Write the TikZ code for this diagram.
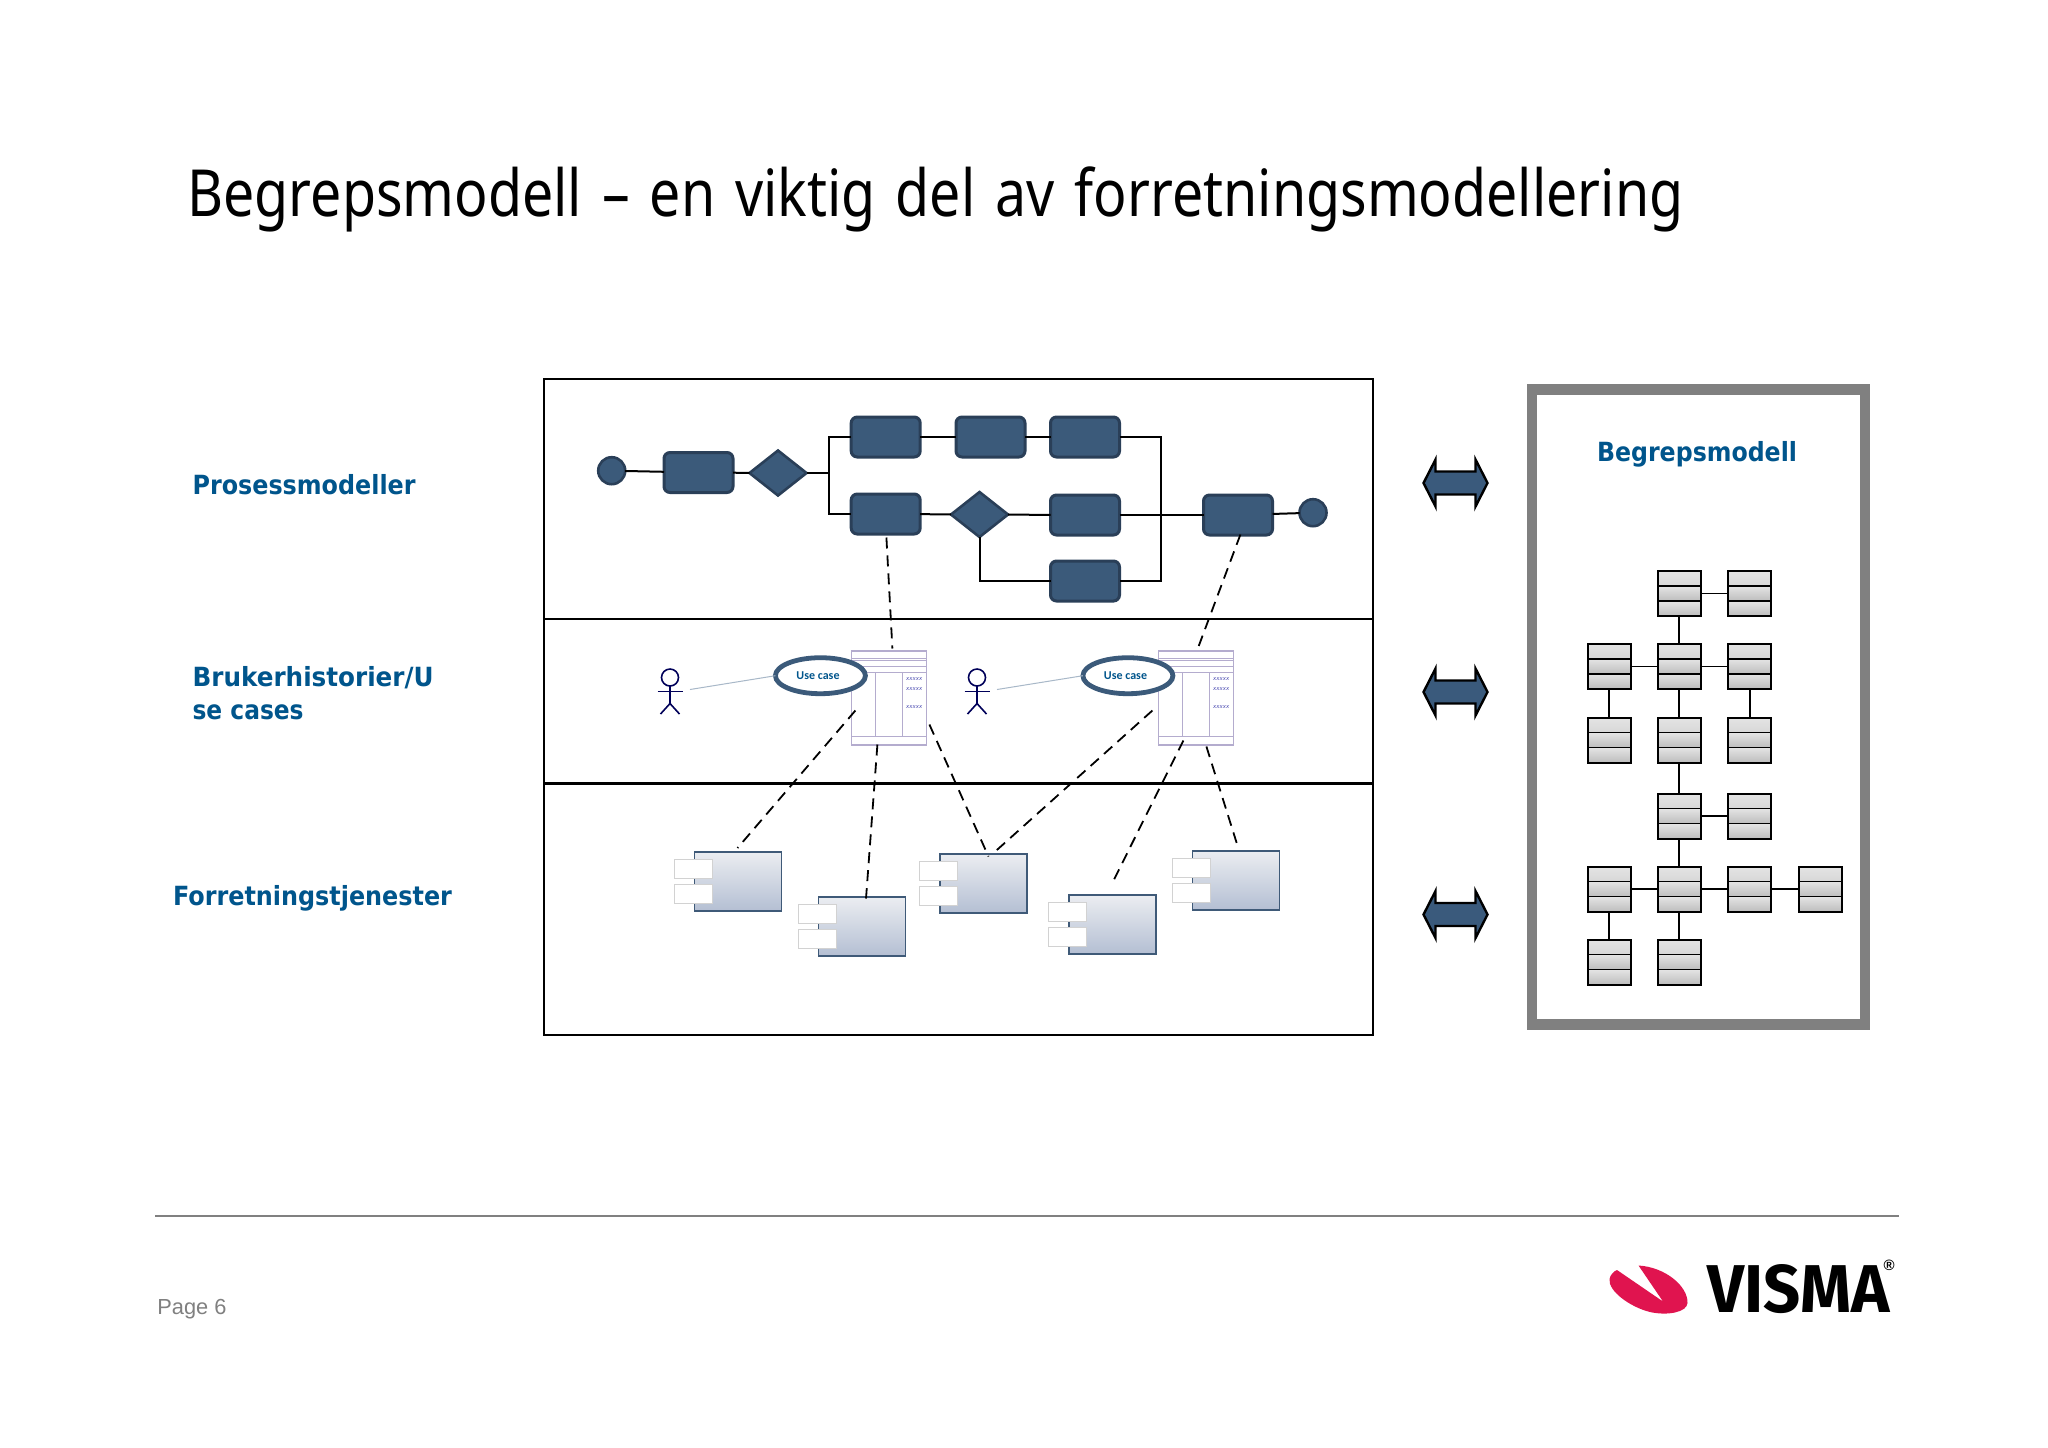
\documentclass[tikz,border=0pt]{standalone}
\usepackage{fontspec}
\usepackage{graphicx}
\setmainfont{DejaVu Sans}
\newfontfamily\titlefont{Noto Sans}
\newfontfamily\arialfont{Liberation Sans}
\newfontfamily\calfont{Carlito}
\newfontfamily\fira{Fira Sans}
\usetikzlibrary{shapes.geometric,calc}
\definecolor{taskfill}{HTML}{3B5A7A}
\definecolor{taskedge}{HTML}{2A3F58}
\definecolor{labelblue}{HTML}{00558C}
\definecolor{framegray}{HTML}{808080}
\definecolor{arrowfill}{HTML}{3A5A7C}
\definecolor{classline}{HTML}{B4ACCE}
\definecolor{compedge}{HTML}{3F5A78}
\definecolor{comptop}{HTML}{EBEDF1}
\definecolor{compbot}{HTML}{B4BFD3}
\definecolor{assocgray}{HTML}{A8B8C8}
\definecolor{entop}{HTML}{E4E4E4}
\definecolor{enbot}{HTML}{BDBDBD}
\definecolor{vismared}{HTML}{E0144F}
\newcommand{\fitw}[2]{\resizebox{#1}{\height}{#2}}
\tikzset{
  x=0.5pt,y=-0.5pt,
  lane/.style={draw=black,line width=1pt,inner sep=0,outer sep=0},
  task/.style={rectangle,rounded corners=3pt,draw=taskedge,line width=1.5pt,fill=taskfill,minimum width=34.5pt,minimum height=20pt,inner sep=0,outer sep=0},
  gate/.style={diamond,draw=taskedge,line width=1.3pt,fill=taskfill,minimum width=28.5pt,minimum height=22.5pt,inner sep=0,outer sep=0},
  terminal/.style={circle,draw=taskedge,line width=1.3pt,fill=taskfill,minimum size=13.5pt,inner sep=0,outer sep=0},
  flow/.style={draw=black,line width=1pt},
  link/.style={draw=black,line width=0.9pt,dashed,dash pattern=on 5.5pt off 3.5pt},
  actorline/.style={draw=blue!35!black,line width=0.8pt},
  assoc/.style={draw=assocgray,line width=0.5pt},
  usecase/.style={ellipse,draw=taskfill,line width=2.4pt,fill=white,minimum width=45pt,minimum height=18pt,inner sep=0,outer sep=0},
  classedge/.style={draw=classline,line width=0.5pt},
  comp/.style={rectangle,draw=compedge,line width=0.8pt,top color=comptop,bottom color=compbot,minimum width=43.5pt,minimum height=29.3pt,inner sep=0,outer sep=0},
  tab/.style={rectangle,draw=gray!35,line width=0.5pt,fill=white,minimum width=19pt,minimum height=9.2pt,inner sep=0,outer sep=0},
  entity/.style={rectangle,draw=black,line width=1pt,minimum width=21.5pt,minimum height=22.5pt,inner sep=0,outer sep=0,
    path picture={
      \foreach \i in {0,1,2}{\shade[top color=entop,bottom color=enbot] ($(path picture bounding box.north west)+(0,\i*15)$) rectangle ++(43,15);}
      \foreach \i in {1,2}{\draw[black,line width=0.9pt] ($(path picture bounding box.north west)+(0,\i*15)$) -- ++(43,0);}
    }},
  biarrow/.style={draw=black,line width=1.2pt,fill=arrowfill,line join=miter},
  rel/.style={draw=black,line width=0.9pt},
  lab/.style={anchor=base west,inner sep=0,outer sep=0,text=labelblue,font=\fontsize{13.2pt}{16pt}\selectfont\bfseries},
}
\newcommand{\biarrowat}[3]{%
  \coordinate (#1) at (#2,#3);
  \draw[biarrow,shift={(#1)}] (-32,0) -- (-20,-23.5) -- (-20,-11.5) -- (20,-11.5) -- (20,-23.5) -- (32,0) -- (20,23.5) -- (20,11.5) -- (-20,11.5) -- (-20,23.5) -- cycle;}
\begin{document}
\begin{tikzpicture}
\useasboundingbox (0,0) rectangle (2048,1447);
\fill[white] (0,0) rectangle (2048,1447);
% title
\node[anchor=base west,inner sep=0] (title) at (187,216) {\titlefont\fontsize{32.5pt}{38pt}\selectfont\fitw{748pt}{\spaceskip=0.36em Begrepsmodell – en viktig del av forretningsmodellering}};
% lane labels
\node[lab] (l1) at (192.6,494) {\fitw{111.5pt}{Prosessmodeller}};
\node[lab] (l2a) at (192.6,686.4) {\fitw{120.5pt}{Brukerhistorier/U}};
\node[lab] (l2b) at (192.6,719.4) {\fitw{55.5pt}{se cases}};
\node[lab] (l3) at (173,905.4) {\fitw{139.5pt}{Forretningstjenester}};
% lanes
\node[lane,anchor=north west,minimum width=414.6pt,minimum height=120pt] (lane1) at (543.7,379) {};
\node[lane,anchor=north west,minimum width=414.6pt,minimum height=82pt] (lane2) at (543.7,619) {};
\node[lane,anchor=north west,minimum width=414.6pt,minimum height=126pt] (lane3) at (543.7,783) {};
\draw[black,line width=1.5pt] (lane3.north west) -- (lane3.north east);
% process
\node[terminal] (s) at (611.7,470.7) {};
\node[task] (t1) at (698.5,472.5) {};
\node[gate] (d0) at (778,473) {};
\coordinate (bus) at (828.7,473);
\node[task] (t2) at (885.7,437) {};
\node[task] (t3) at (990.5,437) {};
\node[task] (t4) at (1085,437) {};
\node[task] (t5) at (885.7,514) {};
\node[gate] (d1) at (979.5,514.5) {};
\node[task] (t6) at (1085,515) {};
\node[task] (t7) at (1085,581) {};
\node[task] (t8) at (1238,515) {};
\node[terminal] (e) at (1313,512.7) {};
\coordinate (rbus) at (1161,515);
\draw[flow] (s) -- (t1);
\draw[flow] (t1) -- (d0);
\draw[flow] (d0.east) -- (bus);
\draw[flow] (t2.west) -| (bus) |- (t5.west);
\draw[flow] (t2) -- (t3);
\draw[flow] (t3) -- (t4);
\draw[flow] (t4.east) -| (rbus) |- (t7.east);
\draw[flow] (t5) -- (d1);
\draw[flow] (d1) -- (t6);
\draw[flow] (t6) -- (t8);
\draw[flow] (t8) -- (e);
\draw[flow] (d1.south) |- (t7.west);
% class boxes
\foreach \nm/\dx in {ca/0,cb/307}{
\begin{scope}[shift={(\dx,0)}]
  \node[rectangle,draw=classline,line width=0.6pt,fill=white,minimum width=37.5pt,minimum height=47pt,inner sep=0,outer sep=0,anchor=north west] (\nm) at (851.7,651) {};
  \draw[classedge] (851.7,658) -- (926.7,658) (851.7,660) -- (926.7,660) (851.7,666) -- (926.7,666) (851.7,672.5) -- (926.7,672.5) (851.7,736) -- (926.7,736);
  \draw[classedge] (875.7,672.5) -- (875.7,736) (902.2,672.5) -- (902.2,736);
  \node[inner sep=0,text=gray!60!blue,font=\fontsize{2.7pt}{3pt}\selectfont\itshape] (\nm x1) at (914.2,679) {xxxxx};
  \node[inner sep=0,text=gray!60!blue,font=\fontsize{2.7pt}{3pt}\selectfont\itshape] (\nm x2) at (914.2,689) {xxxxx};
  \node[inner sep=0,text=gray!60!blue,font=\fontsize{2.7pt}{3pt}\selectfont\itshape] (\nm x3) at (914.2,707) {xxxxx};
\end{scope}}
% use cases
\node[usecase] (u1) at (820.4,675.7) {};
\node[anchor=center,inner sep=0,text=labelblue,font=\calfont\bfseries\fontsize{6pt}{7pt}\selectfont] (u1t) at (818,676) {Use case};
\node[usecase] (u2) at (1127.9,675.7) {};
\node[anchor=center,inner sep=0,text=labelblue,font=\calfont\bfseries\fontsize{6pt}{7pt}\selectfont] (u2t) at (1125.5,676) {Use case};
% actors
\foreach \nm/\dx in {a1/0,a2/307}{
\begin{scope}[shift={(\dx,0)}]
  \node[circle,actorline,minimum size=8.5pt,inner sep=0,outer sep=0] (\nm) at (670,677.5) {};
  \draw[actorline] (\nm.south) -- (670,703.5) (657.5,691.5) -- (682.5,691.5);
  \draw[actorline] (660.5,714) -- (670,703.5) -- (679.5,714);
  \coordinate (\nm r) at (690,689.5);
\end{scope}}
\draw[assoc] (a1r) -- (u1.west);
\draw[assoc] (a2r) -- (u2.west);
% components
\foreach \nm/\cx/\cy in {k1/738/881.5,k2/862/926.5,k3/983.2/883.5,k4/1112.2/924.5,k5/1236/880.5}{
  \node[comp] (\nm) at (\cx,\cy) {};
  \node[tab,anchor=west] (\nm a) at ($(\nm.west)+(-20,-12.5)$) {};
  \node[tab,anchor=west] (\nm b) at ($(\nm.west)+(-20,12.5)$) {};
}
% trace links
\coordinate (p1) at (886.4,537.5); \coordinate (c1t) at (892.4,648.5);
\coordinate (p2) at (1240.4,534.5); \coordinate (c2t) at (1197.4,649.5);
\coordinate (c1l) at (855.4,710.5); \coordinate (k1t) at (737.5,848);
\coordinate (c1b) at (877.4,744.5); \coordinate (k2t) at (866,898.5);
\coordinate (c1r) at (929.4,724.5); \coordinate (k3t) at (988.5,856.5);
\coordinate (c2l) at (1152.4,710.5); \coordinate (k3u) at (993.5,853);
\coordinate (c2b) at (1183.4,740.5); \coordinate (k4t) at (1111.5,884.5);
\coordinate (c2r) at (1206.4,746.5); \coordinate (k5t) at (1238.4,848.5);
\draw[link] (p1) -- (c1t);
\draw[link] (p2) -- (c2t);
\draw[link] (c1l) -- (k1t);
\draw[link] (c1b) -- (k2t);
\draw[link] (c1r) -- (k3t);
\draw[link] (c2l) -- (k3u);
\draw[link] (c2b) -- (k4t);
\draw[link] (c2r) -- (k5t);
% double arrows
\biarrowat{b1}{1455.5}{483}
\biarrowat{b2}{1455.5}{692}
\biarrowat{b3}{1455.5}{914.5}
% concept model frame
\node[rectangle,draw=framegray,line width=5.2pt,fill=white,minimum width=166.5pt,minimum height=317.5pt,inner sep=0,outer sep=0,anchor=north west] (cm) at (1531.8,389.5) {};
\node[lab] (cmt) at (1597,461.4) {\fitw{100pt}{Begrepsmodell}};
% entities
\node[entity] (b1e) at (1679.3,593.5) {}; \node[entity] (c1e) at (1749.8,593.5) {};
\node[entity] (a2e) at (1609.3,666.5) {}; \node[entity] (b2e) at (1679.3,666.5) {}; \node[entity] (c2e) at (1749.8,666.5) {};
\node[entity] (a3e) at (1609.3,740) {}; \node[entity] (b3e) at (1679.3,740) {}; \node[entity] (c3e) at (1749.8,740) {};
\node[entity] (b4e) at (1679.3,816) {}; \node[entity] (c4e) at (1749.8,816) {};
\node[entity] (a5e) at (1609.3,889) {}; \node[entity] (b5e) at (1679.3,889) {}; \node[entity] (c5e) at (1749.8,889) {}; \node[entity] (d5e) at (1820.8,889) {};
\node[entity] (a6e) at (1609.3,962) {}; \node[entity] (b6e) at (1679.3,962) {};
\foreach \u/\v in {b1e/c1e,b1e/b2e,a2e/b2e,b2e/c2e,a2e/a3e,b2e/b3e,c2e/c3e,b3e/b4e,b4e/c4e,b4e/b5e,a5e/b5e,b5e/c5e,c5e/d5e,a5e/a6e,b5e/b6e}{
  \draw[rel] (\u) -- (\v);
}
% footer
\coordinate (fl) at (155,1216); \coordinate (fr) at (1899,1216);
\draw[framegray,line width=0.6pt] (fl) -- (fr);
\node[anchor=base west,inner sep=0,text=gray,font=\arialfont\fontsize{10.9pt}{13pt}\selectfont] (pg) at (157,1314.4) {Page 6};
% logo
\fill[vismared] (1638.5,1265.5) .. controls (1665,1267) and (1688,1286) .. (1687.5,1303)
  .. controls (1687,1312) and (1668,1316) .. (1650,1312)
  .. controls (1630,1307) and (1608,1291) .. (1609.5,1279)
  .. controls (1610,1275) and (1614,1271) .. (1617,1270)
  -- (1663,1301.5) -- cycle;
\node[anchor=base west,inner sep=0,font=\fira\bfseries\fontsize{33pt}{36pt}\selectfont] (vis) at (1707,1312) {\resizebox{91pt}{24pt}{VISMA}};
\node[inner sep=0,font=\arialfont\bfseries\fontsize{7.5pt}{8pt}\selectfont] (reg) at (1889,1265) {®};
\end{tikzpicture}
\end{document}
